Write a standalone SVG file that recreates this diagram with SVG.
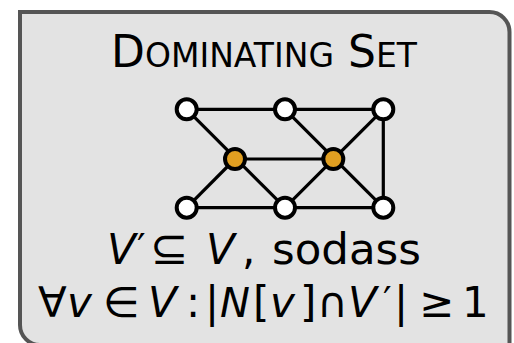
<svg xmlns="http://www.w3.org/2000/svg" width="514" height="343" viewBox="0 0 514 343">
<style>
.e{stroke:#000;stroke-width:3.2;fill:none}
.n{stroke:#000;stroke-width:4;fill:#fff}
.d{fill:#e19f21}
.t{font-family:"DejaVu Sans",sans-serif;fill:#000}
.i{font-style:italic}
</style>
<g id="frame">
<path d="M20,12 H489.5 A20,20 0 0 1 509.5,32 V360 H40 V345 A20,20 0 0 1 20,325 Z" fill="#e3e3e3" stroke="#555" stroke-width="4"/>
</g>
<g id="title">
<text class="t" x="264" y="67" text-anchor="middle" font-size="44">D<tspan font-size="33">OMINATING</tspan> S<tspan font-size="33">ET</tspan></text>
</g>
<g id="connectors">
<line class="e" x1="186.7" y1="109.3" x2="383.3" y2="109.3"/>
<line class="e" x1="186.7" y1="207.7" x2="383.3" y2="207.7"/>
<line class="e" x1="235" y1="159" x2="333.3" y2="159"/>
<line class="e" x1="383.3" y1="109.3" x2="383.3" y2="207.7"/>
<line class="e" x1="186.7" y1="109.3" x2="285" y2="207.7"/>
<line class="e" x1="285" y1="109.3" x2="383.3" y2="207.7"/>
<line class="e" x1="186.7" y1="207.7" x2="235" y2="159"/>
<line class="e" x1="285" y1="207.7" x2="383.3" y2="109.3"/>
</g>
<g id="n1"><circle class="n" cx="186.7" cy="109.3" r="10"/></g>
<g id="n2"><circle class="n" cx="285" cy="109.3" r="10"/></g>
<g id="n3"><circle class="n" cx="383.3" cy="109.3" r="10"/></g>
<g id="n4"><circle class="n d" cx="235" cy="159" r="10"/></g>
<g id="n5"><circle class="n d" cx="333.3" cy="159" r="10"/></g>
<g id="n6"><circle class="n" cx="186.7" cy="207.7" r="10"/></g>
<g id="n7"><circle class="n" cx="285" cy="207.7" r="10"/></g>
<g id="n8"><circle class="n" cx="383.3" cy="207.7" r="10"/></g>
<g id="formula" class="t" font-size="42">
<text y="264"><tspan class="i" x="107">V</tspan><tspan x="137" font-size="38" dy="-4">′</tspan><tspan x="150" dy="4" font-size="46">⊆</tspan><tspan class="i" x="206">V</tspan><tspan x="242">,</tspan><tspan x="272" font-size="43.5">sodass</tspan></text>
<text y="317"><tspan x="38">∀</tspan><tspan class="i" x="67">v</tspan><tspan x="103">∈</tspan><tspan class="i" x="148">V</tspan><tspan x="186">:</tspan><tspan x="205">|</tspan><tspan class="i" x="220" font-size="40">N</tspan><tspan x="253">[</tspan><tspan class="i" x="270">v</tspan><tspan x="300">]</tspan><tspan x="317">∩</tspan><tspan class="i" x="348">V</tspan><tspan x="383" font-size="38" dy="-4">′</tspan><tspan x="394" dy="4">|</tspan><tspan x="419">≥</tspan><tspan x="462">1</tspan></text>
</g>
</svg>
